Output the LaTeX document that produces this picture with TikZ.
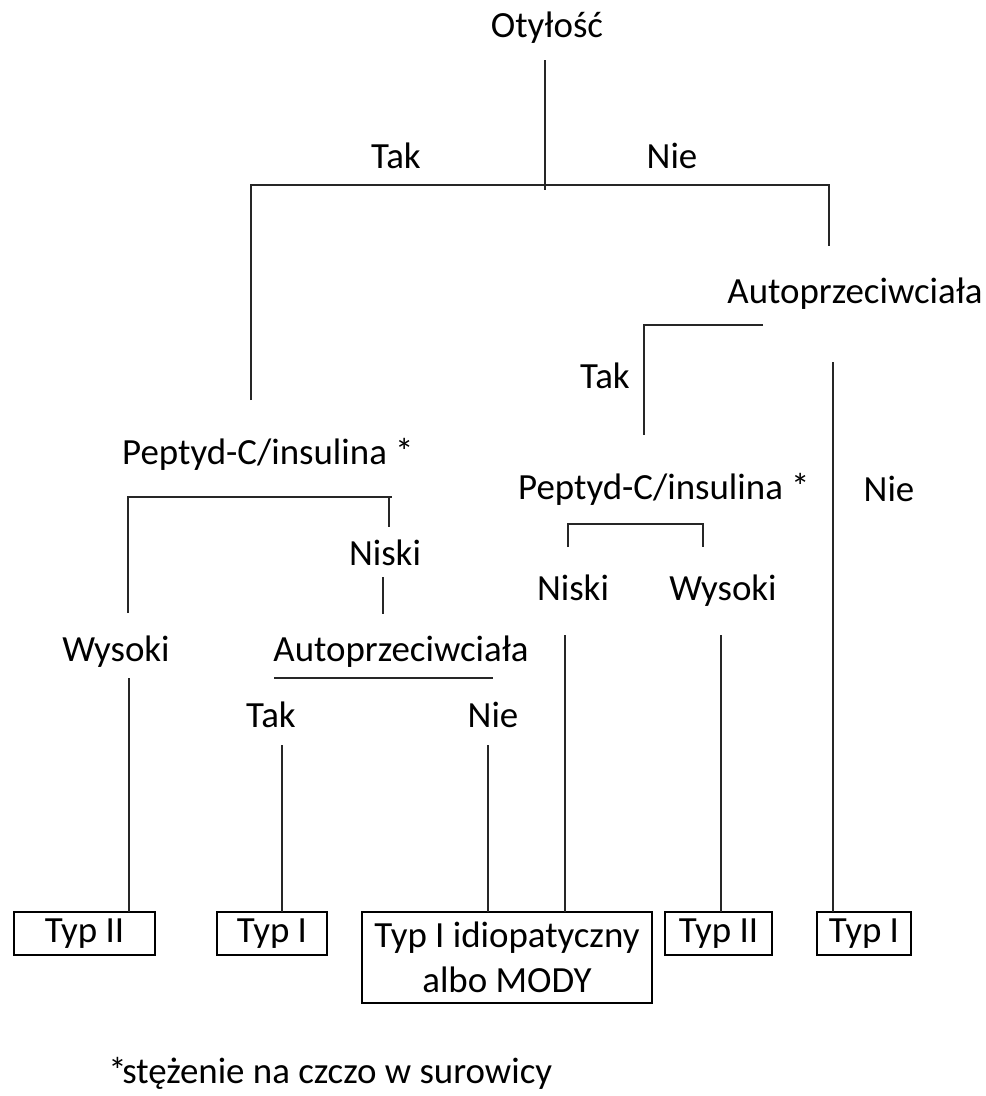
\documentclass[tikz,border=0pt]{standalone}
\usepackage{fontspec}
\setmainfont{Carlito}

\begin{document}
\begin{tikzpicture}[
  x=0.02cm, y=-0.02cm,
  lbl/.style={inner sep=0pt, text height=0.72em, text depth=0.22em,
              font=\fontsize{21}{25.5}\selectfont},
  leaf/.style={rectangle, draw=black, line width=1.1pt, inner sep=0pt, outer sep=0pt,
               align=center, minimum height=0.86cm, font=\fontsize{21}{25.5}\selectfont},
  br/.style={line width=1.2pt, black!85}
]
\useasboundingbox (0,0) rectangle (986,1096);

% labels
\node[lbl] (oty)   at (547,33)  {Otyłość};
\node[lbl] (tak0)  at (396,164) {Tak};
\node[lbl] (nie0)  at (672,164) {Nie};
\node[lbl] (autR)  at (855,299) {Autoprzeciwciała};
\node[lbl] (takR)  at (605,384) {Tak};
\node[lbl] (nieR)  at (889,497) {Nie};
\node[lbl] (pepR)  at (664,495) {Peptyd-C/insulina *};
\node[lbl] (nisR)  at (573,596) {Niski};
\node[lbl] (wysR)  at (723,596) {Wysoki};
\node[lbl] (pepL)  at (268,460) {Peptyd-C/insulina *};
\node[lbl] (nisL)  at (385,561) {Niski};
\node[lbl] (wysL)  at (116,657) {Wysoki};
\node[lbl] (autL)  at (401,657) {Autoprzeciwciała};
\node[lbl] (takL)  at (271,723) {Tak};
\node[lbl] (nieL)  at (493,723) {Nie};

% outcomes
\node[leaf, minimum width=2.82cm] (t1) at (84.5,933.5) {Typ II};
\node[leaf, minimum width=2.2cm]  (t2) at (272,933.5)  {Typ I};
\node[leaf, minimum width=5.8cm, minimum height=1.82cm] (t3) at (507,957.5) {Typ I idiopatyczny\\albo MODY};
\node[leaf, minimum width=2.14cm] (t4) at (718.5,933.5) {Typ II};
\node[leaf, minimum width=1.88cm] (t5) at (864,933.5)  {Typ I};

\node[lbl, anchor=west] (note) at (108,1079) {*\kern-0.12em stężenie na czczo w surowicy};

% junction points
\coordinate (f0)  at (545,60);
\coordinate (f1)  at (545,190);
\coordinate (fL)  at (251,185);
\coordinate (fR)  at (829,185);
\coordinate (fLb) at (251,400);
\coordinate (fRb) at (829,246);
\coordinate (a1)  at (763,325);
\coordinate (a2)  at (644,325);
\coordinate (a3)  at (644,435);
\coordinate (a4)  at (833,362);
\coordinate (b1)  at (568,547);
\coordinate (b2)  at (568,524);
\coordinate (b3)  at (703,524);
\coordinate (b4)  at (703,547);
\coordinate (n1)  at (565,635);
\coordinate (w1)  at (721,635);
\coordinate (p0)  at (392,497);
\coordinate (p1)  at (128,613);
\coordinate (p3)  at (389,497);
\coordinate (p4)  at (389,527);
\coordinate (q1)  at (383,577);
\coordinate (q2)  at (383,614);
\coordinate (w2)  at (129,678);
\coordinate (u1)  at (274,678);
\coordinate (u2)  at (493,678);
\coordinate (k1)  at (282,745);
\coordinate (k2)  at (488,745);

\draw[br] (f0) -- (f1);
\draw[br] (fLb) -- (fL) -- (fR) -- (fRb);
\draw[br] (a1) -- (a2) -- (a3);
\draw[br] (a4) -- (a4 |- t5.north);
\draw[br] (b1) -- (b2) -- (b3) -- (b4);
\draw[br] (n1) -- (n1 |- t3.north);
\draw[br] (w1) -- (w1 |- t4.north);
\draw[br] (p1) -- (p1 |- p0) -- (p0);
\draw[br] (p3) -- (p4);
\draw[br] (q1) -- (q2);
\draw[br] (w2) -- (w2 |- t1.north);
\draw[br] (u1) -- (u2);
\draw[br] (k1) -- (k1 |- t2.north);
\draw[br] (k2) -- (k2 |- t3.north);

\end{tikzpicture}
\end{document}
